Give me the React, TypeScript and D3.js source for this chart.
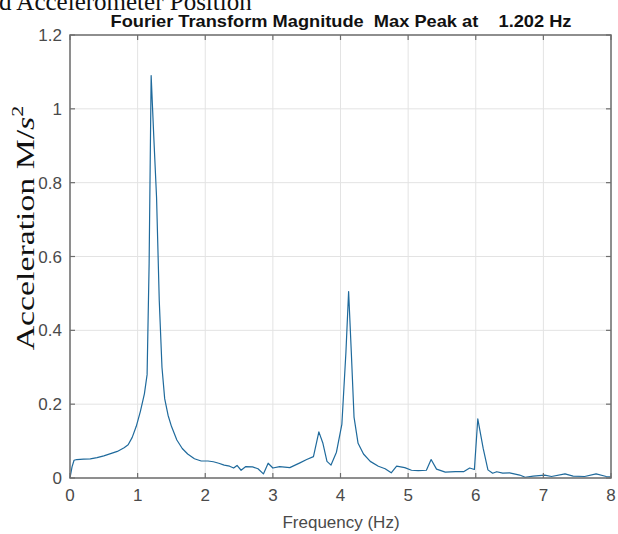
import React from "react";
import * as d3 from "d3";

const freqs = [0.0, 0.03, 0.06, 0.1, 0.2, 0.3, 0.4, 0.5, 0.6, 0.7, 0.8, 0.86, 0.92, 0.98, 1.04, 1.1, 1.14, 1.17, 1.2, 1.24, 1.28, 1.32, 1.36, 1.4, 1.45, 1.5, 1.58, 1.66, 1.74, 1.84, 1.94, 2.04, 2.12, 2.2, 2.28, 2.36, 2.42, 2.47, 2.53, 2.6, 2.7, 2.78, 2.86, 2.93, 3.0, 3.1, 3.25, 3.4, 3.5, 3.6, 3.68, 3.74, 3.8, 3.86, 3.94, 4.02, 4.08, 4.12, 4.16, 4.2, 4.26, 4.34, 4.44, 4.56, 4.66, 4.75, 4.83, 4.95, 5.05, 5.15, 5.27, 5.34, 5.42, 5.55, 5.7, 5.82, 5.91, 5.98, 6.03, 6.11, 6.18, 6.25, 6.31, 6.4, 6.5, 6.65, 6.73, 6.85, 7.02, 7.12, 7.32, 7.44, 7.61, 7.78, 7.93, 8.0];
const magnitudes = [0.0, 0.03, 0.048, 0.05, 0.051, 0.052, 0.055, 0.06, 0.066, 0.072, 0.082, 0.09, 0.11, 0.14, 0.18, 0.228, 0.28, 0.58, 1.09, 0.92, 0.76, 0.48, 0.3, 0.215, 0.17, 0.14, 0.103, 0.08, 0.065, 0.052, 0.046, 0.046, 0.044, 0.04, 0.035, 0.032, 0.027, 0.034, 0.021, 0.031, 0.03, 0.025, 0.011, 0.04, 0.027, 0.031, 0.028, 0.041, 0.05, 0.058, 0.125, 0.094, 0.045, 0.035, 0.07, 0.145, 0.34, 0.505, 0.34, 0.165, 0.094, 0.065, 0.045, 0.032, 0.025, 0.014, 0.032, 0.028, 0.021, 0.02, 0.021, 0.05, 0.024, 0.016, 0.017, 0.017, 0.027, 0.023, 0.16, 0.08, 0.022, 0.013, 0.017, 0.013, 0.014, 0.008, 0.002, 0.005, 0.008, 0.004, 0.011, 0.005, 0.004, 0.011, 0.004, 0.003];
const xTicks = [0, 1, 2, 3, 4, 5, 6, 7, 8];
const yTicks = [0, 0.2, 0.4, 0.6, 0.8, 1, 1.2];
const yTickLabels = ["0", "0.2", "0.4", "0.6", "0.8", "1", "1.2"];
const titleText = "Fourier Transform Magnitude\u00a0\u00a0Max Peak at\u00a0\u00a0\u00a0\u00a01.202 Hz";
const supTitleText = "d Accelerometer Position";
const xLabelText = "Frequency (Hz)";

export default function App() {
  const W = 618, H = 534;
  const left = 70, right = 611, top = 35, bottom = 478;
  const x = d3.scaleLinear().domain([0, 8]).range([left, right]);
  const y = d3.scaleLinear().domain([0, 1.2]).range([bottom, top]);
  const data = freqs.map((f, i) => [f, magnitudes[i]] as [number, number]);
  const line = d3.line<[number, number]>().x(d => x(d[0])).y(d => y(d[1]));
  const axisColor = "#6e6e6e";
  const tickText = "#4a4a4a";
  const sans = "'Liberation Sans', Arial, sans-serif";
  const serif = "'Liberation Serif', 'Times New Roman', serif";
  const tl = 5;
  return (
    <svg width={W} height={H} style={{ position: "absolute", left: 0, top: 0, background: "#fff" }} xmlns="http://www.w3.org/2000/svg">
      <rect x={0} y={0} width={W} height={H} fill="#ffffff" />
      <text x={-1} y={10} fontFamily={serif} fontSize={25} fill="#111">{supTitleText}</text>
      <text x={341} y={27} textAnchor="middle" fontFamily={sans} fontWeight="bold" fontSize={17} fill="#111" textLength={461} lengthAdjust="spacingAndGlyphs">{titleText}</text>
      {xTicks.map(t => (
        <line key={"gx" + t} x1={x(t)} x2={x(t)} y1={top} y2={bottom} stroke="#e3e3e3" strokeWidth={1} />
      ))}
      {yTicks.map(t => (
        <line key={"gy" + t} x1={left} x2={right} y1={y(t)} y2={y(t)} stroke="#e3e3e3" strokeWidth={1} />
      ))}
      <path d={line(data) || ""} fill="none" stroke="#1f6a9c" strokeWidth={1.2} strokeLinejoin="round" />
      <rect x={left} y={top} width={right - left} height={bottom - top} fill="none" stroke={axisColor} strokeWidth={1.5} />
      {xTicks.map(t => (
        <g key={"tx" + t}>
          <line x1={x(t)} x2={x(t)} y1={bottom} y2={bottom - tl} stroke={axisColor} strokeWidth={1.2} />
          <line x1={x(t)} x2={x(t)} y1={top} y2={top + tl} stroke={axisColor} strokeWidth={1.2} />
          <text x={x(t)} y={bottom + 23} textAnchor="middle" fontFamily={sans} fontSize={17} fill={tickText}>{String(t)}</text>
        </g>
      ))}
      {yTicks.map((t, i) => (
        <g key={"ty" + t}>
          <line x1={left} x2={left + tl} y1={y(t)} y2={y(t)} stroke={axisColor} strokeWidth={1.2} />
          <line x1={right} x2={right - tl} y1={y(t)} y2={y(t)} stroke={axisColor} strokeWidth={1.2} />
          <text x={left - 8} y={y(t) + 6} textAnchor="end" fontFamily={sans} fontSize={17} fill={tickText}>{yTickLabels[i]}</text>
        </g>
      ))}
      <text x={341} y={528} textAnchor="middle" fontFamily={sans} fontSize={17} fill={tickText}>{xLabelText}</text>
      <text transform="translate(34,228) rotate(-90) scale(1.3,1)" textAnchor="middle" fontFamily={serif} fontSize={26} fill="#111">
        Acceleration M/<tspan fontStyle="italic">s</tspan><tspan fontSize={17} dy={-11}>2</tspan>
      </text>
    </svg>
  );
}
